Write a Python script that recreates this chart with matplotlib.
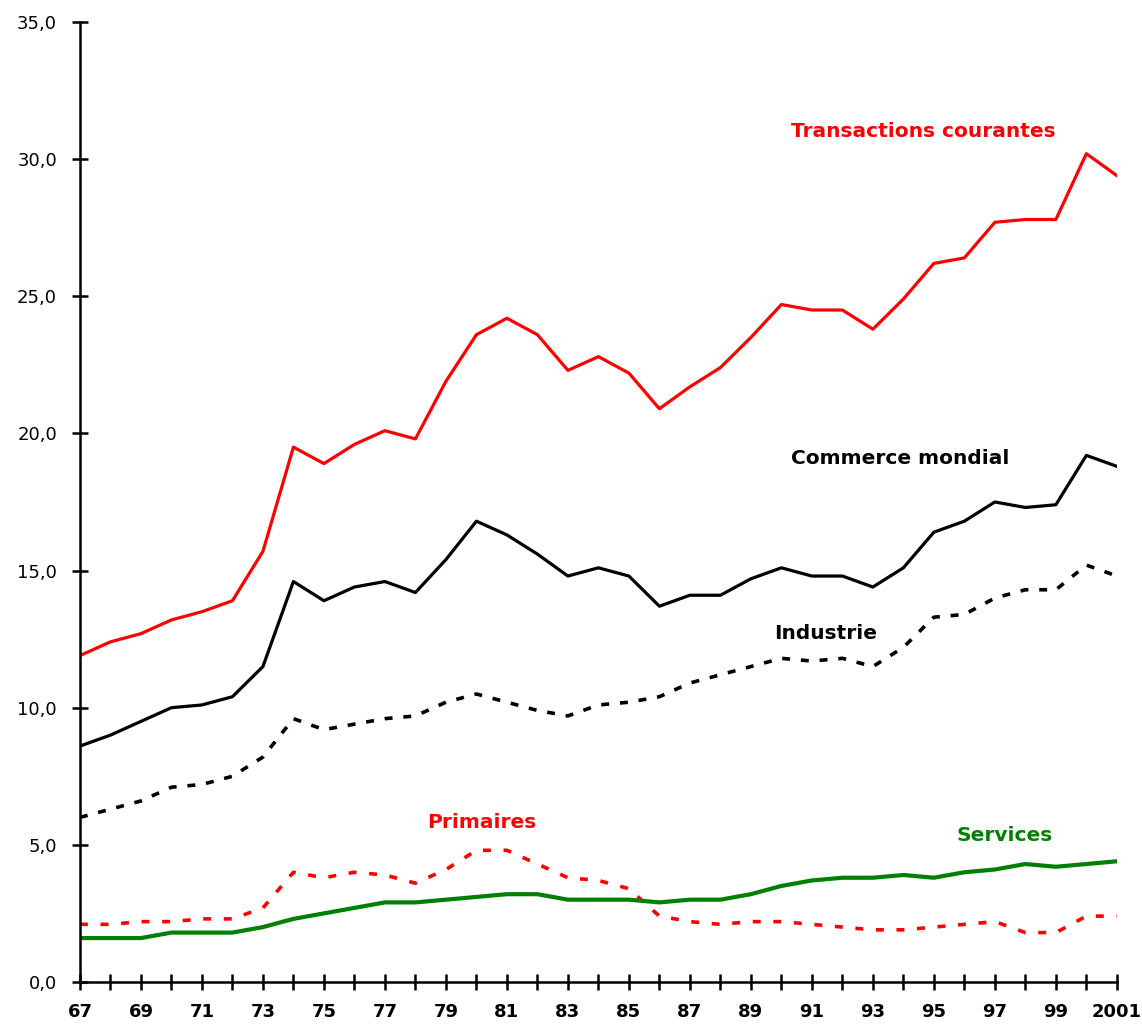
import numpy as np
import matplotlib
matplotlib.use("Agg")
import matplotlib.pyplot as plt

plt.rcParams['font.family'] = ['DejaVu Sans']

# Data (% values)
years = list(range(1967, 2002))
transactions = [11.9, 12.4, 12.7, 13.2, 13.5, 13.9, 15.7, 19.5, 18.9, 19.6,
                20.1, 19.8, 21.9, 23.6, 24.2, 23.6, 22.3, 22.8, 22.2, 20.9,
                21.7, 22.4, 23.5, 24.7, 24.5, 24.5, 23.8, 24.9, 26.2, 26.4,
                27.7, 27.8, 27.8, 30.2, 29.4]
commerce = [8.6, 9.0, 9.5, 10.0, 10.1, 10.4, 11.5, 14.6, 13.9, 14.4,
            14.6, 14.2, 15.4, 16.8, 16.3, 15.6, 14.8, 15.1, 14.8, 13.7,
            14.1, 14.1, 14.7, 15.1, 14.8, 14.8, 14.4, 15.1, 16.4, 16.8,
            17.5, 17.3, 17.4, 19.2, 18.8]
industrie = [6.0, 6.3, 6.6, 7.1, 7.2, 7.5, 8.2, 9.6, 9.2, 9.4,
             9.6, 9.7, 10.2, 10.5, 10.2, 9.9, 9.7, 10.1, 10.2, 10.4,
             10.9, 11.2, 11.5, 11.8, 11.7, 11.8, 11.5, 12.2, 13.3, 13.4,
             14.0, 14.3, 14.3, 15.2, 14.8]
primaires = [2.1, 2.1, 2.2, 2.2, 2.3, 2.3, 2.7, 4.0, 3.8, 4.0,
             3.9, 3.6, 4.1, 4.8, 4.8, 4.3, 3.8, 3.7, 3.4, 2.4,
             2.2, 2.1, 2.2, 2.2, 2.1, 2.0, 1.9, 1.9, 2.0, 2.1,
             2.2, 1.8, 1.8, 2.4, 2.4]
services = [1.6, 1.6, 1.6, 1.8, 1.8, 1.8, 2.0, 2.3, 2.5, 2.7,
            2.9, 2.9, 3.0, 3.1, 3.2, 3.2, 3.0, 3.0, 3.0, 2.9,
            3.0, 3.0, 3.2, 3.5, 3.7, 3.8, 3.8, 3.9, 3.8, 4.0,
            4.1, 4.3, 4.2, 4.3, 4.4]

xtick_years = list(range(1967, 2002, 2))
xtick_labels = [str(y)[2:] for y in xtick_years[:-1]] + ["2001"]
yticks = np.arange(0, 36, 5)

fig = plt.figure(figsize=(11.42, 10.25), dpi=100)
ax = fig.add_axes([0.070, 0.042, 0.908, 0.9365])

ax.plot(years, transactions, color='#ff0000', lw=2.3)
ax.plot(years, commerce, color='black', lw=2.3)
ax.plot(years, industrie, color='black', lw=2.6, ls=(0, (2.2, 3.0)))
ax.plot(years, primaires, color='#ff0000', lw=2.6, ls=(0, (2.2, 3.5)))
ax.plot(years, services, color='#008000', lw=3.0)

# series labels
lbl = dict(fontsize=14.5, fontweight='bold', va='center')
ax.text(1990.3, 31.0, "Transactions courantes", color='#ff0000', **lbl)
ax.text(1990.3, 19.1, "Commerce mondial", color='black', **lbl)
ax.text(1989.75, 12.7, "Industrie", color='black', **lbl)
ax.text(1978.4, 5.8, "Primaires", color='#ff0000', **lbl)
ax.text(1995.75, 5.35, "Services", color='#008000', **lbl)

ax.set_xlim(1967, 2001)
ax.set_ylim(0, 35)
ax.set_xticks(years, minor=True)
ax.set_xticks(xtick_years)
ax.set_xticklabels(xtick_labels, fontsize=13, fontweight='bold')
ax.set_yticks(yticks)
ax.set_yticklabels([f"{v:.1f}".replace('.', ',') for v in yticks], fontsize=13)

for s in ['top', 'right']:
    ax.spines[s].set_visible(False)
for s in ['left', 'bottom']:
    ax.spines[s].set_linewidth(1.8)
ax.tick_params(axis='both', which='both', direction='inout', length=11,
               width=1.8)
ax.tick_params(axis='x', pad=10)
ax.tick_params(axis='y', pad=11)

fig.savefig("out.png", dpi=100)
